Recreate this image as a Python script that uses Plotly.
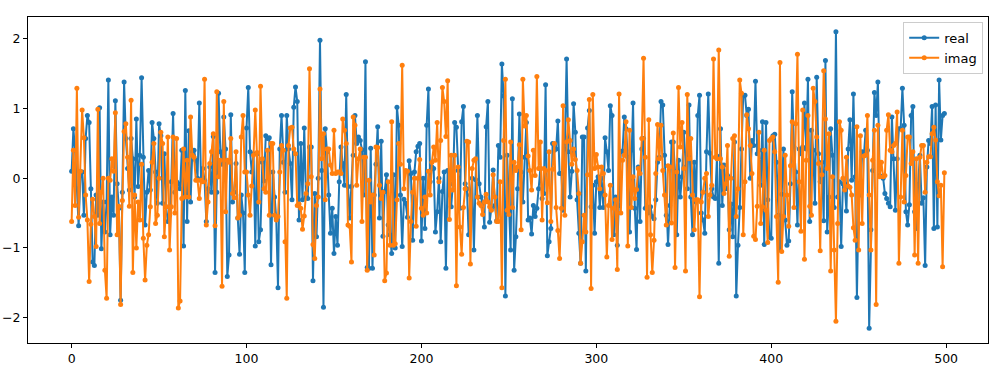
import plotly.graph_objects as go
import numpy as np

real_0_40 = [0.10, 0.71, 0.4, -0.15, -0.68, 0.04, 0.09, -0.53, 0.57, 0.9, 0.8, -0.15, -1.2, -1.25, -0.24, -0.53, 1.01, -1.01, -0.34, -0.77, -0.34, 1.41, -0.81, -0.27, -0.53, 1.11, -0.08, -0.43, -1.75, -0.2, 1.38, 0.57, 0.14, -0.17, 0.57, 0.28, -0.27, 0.85, -0.12, 0.33, 1.44]
real_41_81 = [0.30, -0.67, -0.2, 0.11, -0.17, 0.80, 0.57, 0.09, -0.36, 0.78, 0.61, -0.36, 0.35, -0.41, -0.62, -0.53, -0.05, 0.93, -0.2, -0.05, -0.08, -0.15, 0.40, -0.97, 1.26, -0.62, 0.68, -0.34, 0.38, 0.40, 0.26, 0.0, 1.08, -0.03, 0.14, -0.03, -0.62, -0.15, 0.16, -0.2, 0.6]
real_82_122 = [-1.35, -0.2, 1.22, 0.38, 0.2, 0.88, 0.42, -1.41, -1.1, 0.91, -0.34, -0.2, 0.21, -0.57, -1.09, -0.24, -0.5, -1.35, 0.72, 1.3, 0.38, 0.09, 0.35, -0.97, 0.35, -0.91, -0.74, 0.23, -0.04, 0.61, 0.57, 0.58, -1.24, 0.09, -0.27, -0.58, -1.57, 0.42, 0.9, 0.23, -0.2]
real_123_163 = [0.9, 0.42, 0.21, -0.31, 1.02, 1.31, 1.1, -0.6, 0.5, -0.31, 0.72, -0.27, -0.29, 0.45, 0.45, -1.47, -0.22, -0.84, 0.0, 1.98, 0.11, -1.85, 0.71, 0.38, -0.24, -0.79, -0.43, -1.08, -0.55, -0.96, -0.05, 0.45, 0.21, -0.1, 1.2, -0.12, -0.57, -0.12, 0.33, 0.9, 0.5]
real_164_204 = [0.59, 0.54, 0.41, -0.24, 1.67, -1.28, -1.29, 0.43, -1.29, -0.24, 0.2, 0.74, -0.57, 0.53, -0.83, -0.19, 0.05, -0.67, -0.81, -1.08, 0.05, -1.0, 1.02, 0.76, -0.24, -0.98, -0.3, -0.36, -0.56, 0.25, 0.07, -0.89, 0.09, 0.38, 0.46, 0.5, -0.9, 0.0, -0.72, 0.76, 1.28]
real_205_245 = [-0.05, 0.16, 0.14, -0.77, -0.48, 0.0, -0.91, -0.19, 0.09, -1.29, 0.11, -0.24, -0.41, -0.08, 0.8, 0.73, 0.11, -0.43, 0.81, 1.03, -0.08, -0.15, -0.81, -0.24, 0.0, -1.03, -0.02, 0.9, -0.08, -0.27, -0.34, -0.7, 0.74, 1.1, -0.63, -0.43, 0.12, -0.39, -0.61, 0.47, 0.3]
real_246_286 = [1.64, 1.18, -1.69, 0.33, -0.5, -1.03, 1.14, -1.32, -0.84, -0.15, 0.92, 0.09, -0.34, 0.3, 0.8, -0.6, -0.57, -0.8, -0.39, -0.55, -0.43, -0.15, 0.14, -0.29, -0.22, 1.34, -1.11, -0.91, -0.72, 0.5, 0.4, 0.42, 0.82, 0.07, 0.07, -0.46, 0.42, 1.71, 0.38, -0.27, 0.1]
real_287_327 = [1.07, 0.66, -0.31, -0.79, -1.22, 0.59, 0.59, -1.33, 0.72, 0.97, -0.41, -0.1, -0.79, -0.05, 0.02, -0.42, 0.0, -0.42, 0.58, 0.38, 0.11, 1.04, 0.9, -0.81, -0.27, -0.96, -0.39, 0.38, 0.39, 0.88, 0.71, 0.3, -0.77, 0.4, 1.08, -0.43, -1.02, 0.16, -0.62, 0.42, 0.57]
real_328_368 = [-0.43, -0.41, -0.5, -0.41, -0.55, -0.58, -0.31, 0.23, 0.3, 1.1, 1.05, 0.33, -0.53, -0.95, -0.39, 0.52, 0.52, 0.09, -0.81, 0.26, -0.27, 0.02, 0.66, 0.16, -0.15, 1.05, -0.27, -0.81, 0.23, -0.34, 0.9, 1.19, -0.5, -0.6, -0.79, 0.38, 1.21, 0.36, -0.15, -0.27, -0.29]
real_369_409 = [0.32, -1.22, 0.71, -0.39, 0.19, -0.15, 0.04, -0.74, -0.37, -0.84, 0.52, -1.69, -0.96, -0.42, 0.42, 1.19, 1.19, 0.9, 0.99, 0.0, 0.54, 0.47, 1.39, 0.35, 0.4, -0.1, 0.81, -0.95, 0.8, -0.31, -0.84, -0.86, 0.61, 0.63, 0.23, -0.53, -1.03, -0.23, 0.42, -0.6, -0.96]
real_410_450 = [-0.9, -0.08, 1.24, 0.45, 0.09, -0.67, 0.42, 0.35, 0.45, 1.08, 0.42, 1.42, -0.62, 0.69, 0.4, -0.36, 1.45, 0.35, -0.05, 0.23, -0.61, 1.69, -0.77, -0.27, 0.71, 0.33, -0.42, 2.1, -0.27, -0.05, -0.98, -0.08, -0.08, -0.47, 0.42, 0.84, -0.03, 1.21, 0.02, -1.71, -0.22]
real_451_499 = [-0.24, 0.38, 0.33, 0.69, 0.4, -2.15, -0.74, 0.11, 1.23, 0.9, 1.38, 0.04, 0.02, 0.0, -0.22, -0.29, -0.36, -0.41, 0.88, 0.28, -0.46, 0.28, 0.71, 0.71, 1.29, 0.76, -0.48, -0.67, -0.38, 0.9, 1.03, -0.48, -0.72, -0.09, 0.33, -0.36, -0.28, -1.25, 0.16, 0.54, 0.5, 1.03, -0.72,
                1.05, -0.7, 1.41, 0.55, 0.9, 0.93]

imag_0_40 = [-0.62, 0.4, -0.39, 1.29, -0.56, 0.1, 0.98, 0.58, -0.24, -0.6, -1.48, -0.66, -0.3, -0.55, -0.98, 0.99, -0.65, -0.2, 0.0, -1.32, -1.72, 0.0, -0.03, 0.28, 0.1, 0.94, -0.81, -0.4, -1.81, -0.32, 0.67, 0.78, 0.3, -0.4, 1.12, -1.35, -0.24, -1.0, -0.34, -0.6, 0.2]
imag_41_81 = [-0.86, -1.46, -0.96, -0.81, -0.41, 0.23, 0.5, -0.65, -0.53, 0.0, 0.66, 0.5, -0.84, -0.41, 0.59, -1.03, -0.41, 0.59, -0.5, 0.57, -1.86, -1.76, -0.29, 0.42, -0.27, 0.26, -0.27, 0.88, 0.33, 0.3, -0.03, -0.03, -0.29, -0.03, -0.05, 1.42, -0.67, -0.34, 0.21, 0.38, 0.64]
imag_82_122 = [-0.68, 1.24, 0.02, 0.26, -1.55, 1.1, -0.48, 0.26, 0.23, 0.57, -0.22, -0.28, 0.38, -0.57, -0.53, 0.59, 0.9, 0.09, 0.09, -0.24, -0.53, -0.11, 0.33, 0.98, 0.37, -0.34, 1.32, 0.28, -0.15, -0.2, 0.4, -0.53, 0.5, 0.5, -0.53, -0.6, -0.55, 0.09, 0.47, 0.4, -0.91]
imag_123_163 = [-1.72, 0.47, 0.72, 0.73, 0.42, 0.35, -0.39, -0.37, -0.43, -0.73, -0.54, -0.22, -0.08, 1.57, 0.02, -0.95, -1.15, -0.39, -0.27, 1.28, 0.28, 0.64, -0.31, 0.42, 0.42, 0.19, 0.07, 0.69, 0.07, 0.09, 0.09, 0.07, 0.85, 0.69, 0.5, -0.67, -0.69, -1.2, 0.88, 0.76, -0.1]
imag_164_204 = [0.28, 0.42, -0.62, 0.3, 0.3, -1.32, -0.03, -0.34, -0.24, -1.1, 0.45, 0.44, -0.1, -0.29, -0.2, -1.47, -1.36, -0.05, -0.96, 0.81, -0.96, -0.94, -0.31, 0.5, 0.2, 1.62, -0.15, 0.11, 0.1, -1.43, -0.62, -0.2, 0.0, -0.69, 0.0, 0.27, -0.43, -0.53, -0.27, -0.5, 0.1]
imag_205_245 = [-0.24, 0.23, 0.45, 0.26, 0.8, -0.05, 0.54, 1.3, 1.1, 0.6, 1.4, -0.59, 0.33, -0.17, 0.33, -1.54, 0.16, -0.7, -1.09, -0.42, -0.15, 0.53, 0.52, -1.23, 0.14, 0.26, 0.28, -0.27, -0.36, -0.39, -0.52, -0.34, -0.23, -0.34, -0.41, -0.46, 0.05, -0.27, -0.62, -0.62, -0.05]
imag_246_286 = [-1.57, 0.54, 1.42, -0.46, -0.52, 0.52, -0.42, 0.23, 0.11, 0.16, 0.48, -0.74, 1.42, 0.75, 0.9, 0.32, 0.11, -0.17, 0.4, 0.04, 1.46, 0.14, 0.52, -0.6, 0.14, 0.11, -0.35, 0.38, -0.62, 0.13, 0.5, -0.42, -0.75, -1.15, -0.43, 1.04, -0.53, 0.52, 0.84, 0.54, 0.2]
imag_287_327 = [0.42, 0.27, 0.11, -0.22, -1.22, -0.91, -0.53, -0.77, 0.05, 1.13, -1.58, 1.2, 0.14, 0.34, 0.16, -0.15, 0.16, 0.07, -0.24, -1.13, -0.39, -0.1, -0.88, -0.43, -0.31, -1.31, 1.21, -0.5, 0.26, 0.33, 0.81, -0.97, 0.69, -0.42, 0.02, -0.29, -0.16, 0.14, 0.07, 0.57, 1.72]
imag_328_368 = [0.3, -1.42, 0.84, -0.81, -1.35, -0.89, 0.07, 0.77, 0.28, 0.76, 0.11, -0.24, -0.67, 0.18, 0.16, -0.64, 0.65, -1.28, 0.09, 1.3, 0.45, 0.8, 0.14, -1.33, 1.2, 0.28, 0.57, -0.24, -0.74, -0.31, -0.31, -1.7, -0.34, -0.2, 0.0, 0.07, -0.55, -0.24, -0.1, 1.71, 0.3]
imag_369_409 = [0.28, 1.84, 0.28, 0.16, -0.22, -0.08, 0.47, -1.12, 0.0, 0.57, 0.61, -0.55, -0.15, 1.41, 1.22, -0.81, -0.05, 0.91, 0.71, 0.47, 0.07, -0.83, -0.88, -0.4, 0.66, -0.65, -0.41, 0.4, -0.46, -0.92, 0.54, 0.57, 0.59, 0.38, -0.55, -1.49, 1.66, -1.05, -0.55, 0.33, -0.24]
imag_410_450 = [-0.69, 0.18, 0.81, -0.42, 0.78, 1.78, -0.05, -0.76, 0.98, -1.16, 0.26, 0.9, -0.4, -0.53, 1.29, 1.1, 0.59, 0.21, -1.04, 0.05, 1.54, 0.85, 0.14, 0.64, -1.33, 0.02, -1.03, -2.05, -0.65, 0.81, 0.69, 0.0, -0.17, 0.3, -0.11, -0.13, -0.24, -0.71, -0.89, 0.74, -1.03]
imag_451_499 = [0.61, -0.65, 0.32, 0.33, 0.9, -0.24, -1.03, 0.26, 0.69, -1.81, 0.76, 0.02, 0.23, 0.02, 0.04, 0.69, 0.91, 0.4, 0.38, 0.47, 0.5, 0.95, -1.22, -0.27, 0.69, -0.34, 0.04, 0.59, 0.59, 0.21, 0.38, -1.1, 0.28, -1.22, 0.3, 0.47, 0.47, -0.2, 0.23, 0.31, 0.31, 0.64, 0.73,
                0.55, -0.05, -0.25, -0.1, -1.27, 0.08]

real = (real_0_40 + real_41_81 + real_82_122 + real_123_163 + real_164_204 + real_205_245
        + real_246_286 + real_287_327 + real_328_368 + real_369_409 + real_410_450 + real_451_499)
imag = (imag_0_40 + imag_41_81 + imag_82_122 + imag_123_163 + imag_164_204 + imag_205_245
        + imag_246_286 + imag_287_327 + imag_328_368 + imag_369_409 + imag_410_450 + imag_451_499)
idx = list(range(len(real)))

series_names = ["real", "imag"]
x_ticks = [0, 100, 200, 300, 400, 500]
y_ticks = [-2, -1, 0, 1, 2]

n = len(real)
xpad = 0.05 * (n - 1)
allv = np.array(real + imag)
ymin, ymax = allv.min(), allv.max()
ypad = 0.05 * (ymax - ymin)

fig = go.Figure()
for name, vals, col in [(series_names[0], real, "#1f77b4"), (series_names[1], imag[:len(real)], "#ff7f0e")]:
    fig.add_trace(go.Scatter(
        x=idx, y=vals, name=name, mode="lines+markers",
        line=dict(color=col, width=2),
        marker=dict(color=col, size=5, symbol="circle"),
    ))

axis_common = dict(
    showline=True, linecolor="black", linewidth=1, mirror=True,
    ticks="outside", ticklen=4, tickwidth=1, tickcolor="black",
    showgrid=False, zeroline=False, automargin=False,
    tickfont=dict(family="DejaVu Sans", size=12.5, color="black"),
)
fig.update_xaxes(range=[-xpad, n - 1 + xpad], tickvals=x_ticks, **axis_common)
fig.update_yaxes(range=[ymin - ypad, ymax + ypad], tickvals=y_ticks, **axis_common)

fig.update_layout(
    width=998, height=371,
    margin=dict(l=28, r=10, t=17, b=28),
    plot_bgcolor="white", paper_bgcolor="white",
    font=dict(family="DejaVu Sans", size=13, color="black"),
    legend=dict(
        x=0.995, y=0.985, xanchor="right", yanchor="top",
        bgcolor="rgba(255,255,255,0.8)", bordercolor="#cccccc", borderwidth=1,
        itemwidth=30, font=dict(size=13),
    ),
    showlegend=True,
)

fig.write_html(
    "out.html",
    config={"displayModeBar": False},
    post_script="document.body.style.margin='0';document.body.style.padding='0';document.body.style.overflow='hidden';",
)
